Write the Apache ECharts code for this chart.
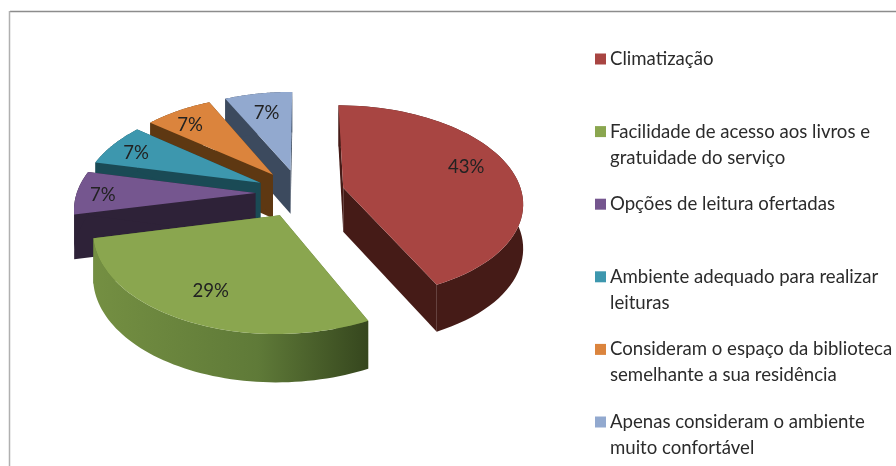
<!DOCTYPE html>
<html><head><meta charset="utf-8">
<style>html,body{margin:0;padding:0;background:#fff}#c{width:896px;height:466px;filter:blur(0.5px)}</style>
<script src="https://cdn.jsdelivr.net/npm/echarts@6/dist/echarts.min.js"></script>
</head><body><div id="c"></div>
<script>
const categories = ['Climatização','Facilidade de acesso aos livros e\ngratuidade do serviço','Opções de leitura ofertadas','Ambiente adequado para realizar\nleituras','Consideram o espaço da biblioteca\nsemelhante a sua residência','Apenas consideram o ambiente\nmuito confortável'];
const values = [6,4,1,1,1,1];
const topColors = ['#a84542','#8aa64f','#75568f','#3d97ae','#db843d','#92a9cf'];
const wallColors = ['#451b17','#55702f','#2e2238','#1a4a55','#5e3812','#3c4a5e'];
const labelRadius = [0.76,0.75,0.85,0.82,0.8,0.72];
const labelTurn = [-5,0,-2,-2,-3,0];

const total = values.reduce((a,b)=>a+b,0);
const P = {cx:300, cy:193, A:178.6, B:95.4, k:0.14, D:44, e:0.25, start:0.2};
const rad = d=>d*Math.PI/180;
function proj(theta, r, mid, drop){
  const u = r*Math.sin(rad(theta)) + P.e*Math.sin(rad(mid));
  const v = -r*Math.cos(rad(theta)) - P.e*Math.cos(rad(mid));
  const den = 1 - P.k*v;
  return [P.cx + P.A*u/den, P.cy + P.B*v/den + (drop ? P.D/Math.sqrt(den) : 0)];
}
const spans = []; let acc = P.start;
values.forEach(v=>{ const s = v/total*360; spans.push([acc, acc+s]); acc += s; });

function renderItem(params, api){
  const i = api.value(0);
  const [a0,a1] = spans[i], mid = (a0+a1)/2;
  const arc = (drop)=>{ const pts=[]; for(let t=0;t<=60;t++) pts.push(proj(a0+(a1-a0)*t/60,1,mid,drop)); return pts; };
  const apex = proj(0,0,mid,false), apexB = proj(0,0,mid,true);
  const topArc = arc(false), botArc = arc(true);
  const base = (6-i)*10;
  let wallFill = wallColors[i];
  if (i===1) wallFill = {type:'linear',x:94,y:0,x2:367,y2:0,global:true,colorStops:[{offset:0,color:'#748f42'},{offset:0.6,color:'#5f7a38'},{offset:1,color:'#36471e'}]};
  const pc = Math.round(values[i]/total*100)+'%';
  const lp = proj(mid+labelTurn[i],labelRadius[i],mid,false);
  return {type:'group',children:[
    {type:'polygon',z2:base,shape:{points:[apex,topArc[0],botArc[0],apexB]},style:{fill:wallColors[i]}},
    {type:'polygon',z2:base+1,shape:{points:[apex,topArc[60],botArc[60],apexB]},style:{fill:wallColors[i]}},
    {type:'polygon',z2:base+2,shape:{points:topArc.concat(botArc.slice().reverse())},style:{fill:wallFill}},
    {type:'polygon',z2:base+3,shape:{points:[apex].concat(topArc)},style:{fill:topColors[i]}},
    {type:'text',z2:base+4,style:{text:pc,x:lp[0],y:lp[1],align:'center',verticalAlign:'middle',font:'18.6px Lato',fill:'#222'}}
  ]};
}
const graphic = [
  {type:'line',shape:{x1:10,y1:11.5,x2:896,y2:11.5},style:{stroke:'#8c8c8c',lineWidth:1.5}},
  {type:'line',shape:{x1:9.5,y1:11,x2:9.5,y2:466},style:{stroke:'#b0b0b0',lineWidth:1.5}}
];
const firstLine = 59, entryStep = 72.6;
categories.forEach((c,i)=>{
  const y = firstLine + i*entryStep;
  graphic.push({type:'rect',shape:{x:595,y:y-5.5,width:11,height:11},style:{fill:topColors[i]}});
  graphic.push({type:'text',style:{text:c,x:610,y:y-13,font:'18.6px Lato',lineHeight:26,fill:'#2b2b2b',align:'left',verticalAlign:'top'}});
});
const chart = echarts.init(document.getElementById('c'),null,{renderer:'canvas'});
chart.setOption({animation:false,backgroundColor:'#fff',graphic,
  series:[{type:'custom',coordinateSystem:'none',renderItem,data:values.map((v,i)=>[i,v]),silent:true}]});
</script></body></html>
